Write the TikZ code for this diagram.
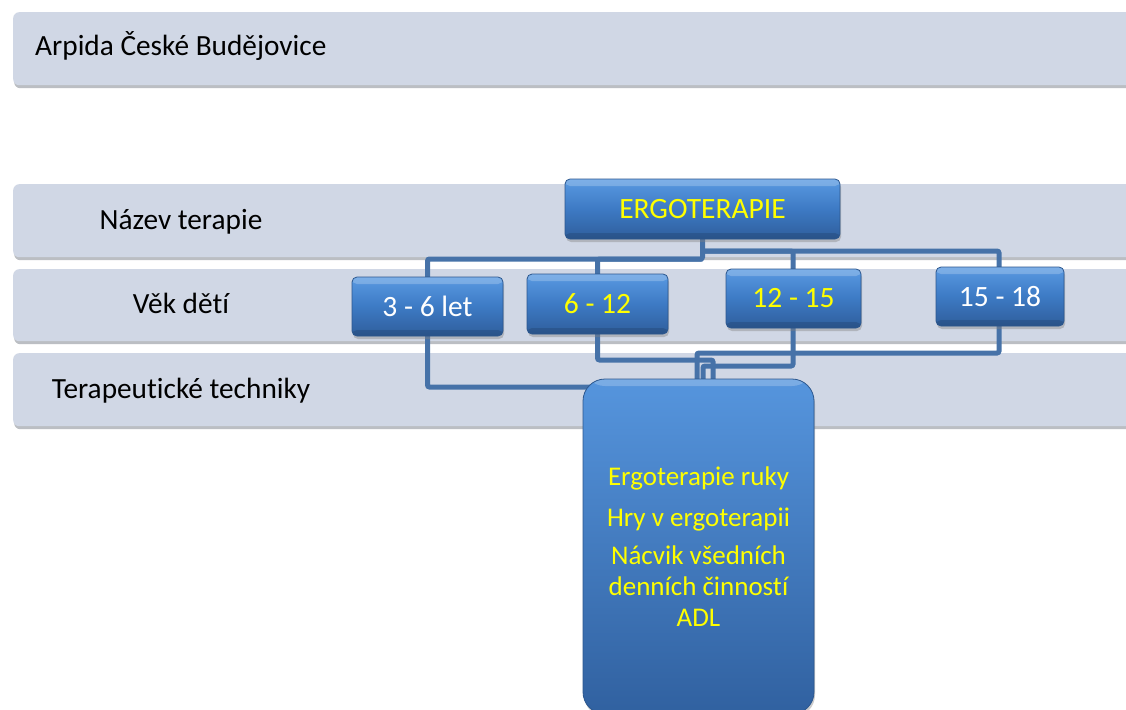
\documentclass[tikz,border=0pt]{standalone}
\usepackage{fontspec}
\setmainfont{Carlito}[Ligatures=NoCommon]
\usetikzlibrary{shadows}
\definecolor{bandfill}{HTML}{D0D7E5}
\definecolor{bandshadow}{HTML}{8E939B}
\definecolor{connblue}{HTML}{4672A8}
\definecolor{boxtop}{HTML}{5A9AE2}
\definecolor{boxmid}{HTML}{3D7AC4}
\definecolor{boxbot}{HTML}{2F5E9C}
\definecolor{boxedge}{HTML}{2C578E}
\definecolor{labelyellow}{HTML}{FFFF00}
\tikzset{
  band/.style={rectangle, rounded corners=6pt, fill=bandfill, inner sep=0pt,
    drop shadow={shadow xshift=1pt, shadow yshift=-3pt, opacity=0.6, fill=bandshadow}},
  bandtext/.style={inner sep=0pt, font=\fontsize{29.3}{34}\selectfont, text=black},
  agebox/.style={rectangle, rounded corners=5pt, draw=boxedge, line width=0.8pt,
    top color=boxtop, bottom color=boxbot, middle color=boxmid, inner sep=0pt,
    font=\fontsize{29.5}{34}\selectfont,
    drop shadow={shadow xshift=1pt, shadow yshift=-3pt, opacity=0.4},
    path picture={
      \fill[white, opacity=0.22]
        (path picture bounding box.north west) rectangle
        ([yshift=-7pt]path picture bounding box.north east);
      \fill[black, opacity=0.12]
        ([yshift=6pt]path picture bounding box.south west) rectangle
        (path picture bounding box.south east);
    }},
  techbox/.style={rectangle, rounded corners=22pt, draw=boxedge, line width=0.8pt,
    top color=boxtop!85!boxmid, bottom color=boxbot!90!boxmid, inner sep=0pt,
    align=center, text=labelyellow,
    drop shadow={shadow xshift=1pt, shadow yshift=-3pt, opacity=0.4},
    path picture={
      \fill[white, opacity=0.22]
        (path picture bounding box.north west) rectangle
        ([yshift=-7pt]path picture bounding box.north east);
    }},
  conn/.style={draw=connblue, line width=5pt, rounded corners=2pt}
}
\begin{document}
\begin{tikzpicture}[x=1pt, y=-1pt]
\useasboundingbox (0,0) rectangle (1126,709);
\clip (0,0) rectangle (1126,709);
\fill[white] (0,0) rectangle (1126,709);

% horizontal bands
\node[band, anchor=north west, minimum width=1140pt, minimum height=73pt] (b1) at (13,12) {};
\node[band, anchor=north west, minimum width=1140pt, minimum height=73pt] (b2) at (13,184) {};
\node[band, anchor=north west, minimum width=1140pt, minimum height=72pt] (b3) at (13,269) {};
\node[band, anchor=north west, minimum width=1140pt, minimum height=73pt] (b4) at (13,353) {};

% band captions
\node[bandtext, anchor=base west] (l1) at (35,56) {Arpida České Budějovice};
\node[bandtext, anchor=base] (l2) at (181,229) {Název terapie};
\node[bandtext, anchor=base] (l3) at (181,313) {Věk dětí};
\node[bandtext, anchor=base] (l4) at (181,398) {Terapeutické techniky};

% junctions and entry points of the connectors
\coordinate (jl) at (702.5,259);
\coordinate (jr) at (702.5,251);
\coordinate (in1) at (697,379);
\coordinate (in2) at (703,379);
\coordinate (in3) at (713,379);
\coordinate (in0) at (600,387);
\coordinate (cErgo) at (702.5,209);

% connectors (drawn under the boxes)
\draw[conn] (702.5,239) -- (jl) -| (427.5,277);
\draw[conn] (jl) -| (597.5,274);
\draw[conn] (jr) -| (793,269);
\draw[conn] (jr) -| (999,267);
\draw[conn] (427.5,336) |- (in0);
\draw[conn] (597.5,334) |- (713,360) -- (in3);
\draw[conn] (793,328) |- (703,366) -- (in2);
\draw[conn] (999,326) |- (697,353) -- (in1);

% boxes
\node[agebox, text=labelyellow, minimum width=275pt, minimum height=60pt] (ergo) at (cErgo) {ERGOTERAPIE};
\node[agebox, text=white, minimum width=151pt, minimum height=59pt] (a36) at (427.5,306.5) {3 - 6 let};
\node[agebox, text=labelyellow, minimum width=141pt, minimum height=60pt] (a612) at (597.5,304) {6 - 12};
\node[agebox, text=labelyellow, minimum width=135pt, minimum height=59pt] (a1215) at (793.5,298.5) {12 - 15};
\node[agebox, text=white, minimum width=128pt, minimum height=59pt] (a1518) at (1000,296.5) {15 - 18};
\node[techbox, minimum width=231pt, minimum height=335pt, font=\fontsize{27}{31}\selectfont] (tech) at (698.5,546.5)
  {Ergoterapie ruky\\[10pt]Hry v ergoterapii\\[7pt]Nácvik všedních\\denních činností\\ADL};
\end{tikzpicture}
\end{document}
